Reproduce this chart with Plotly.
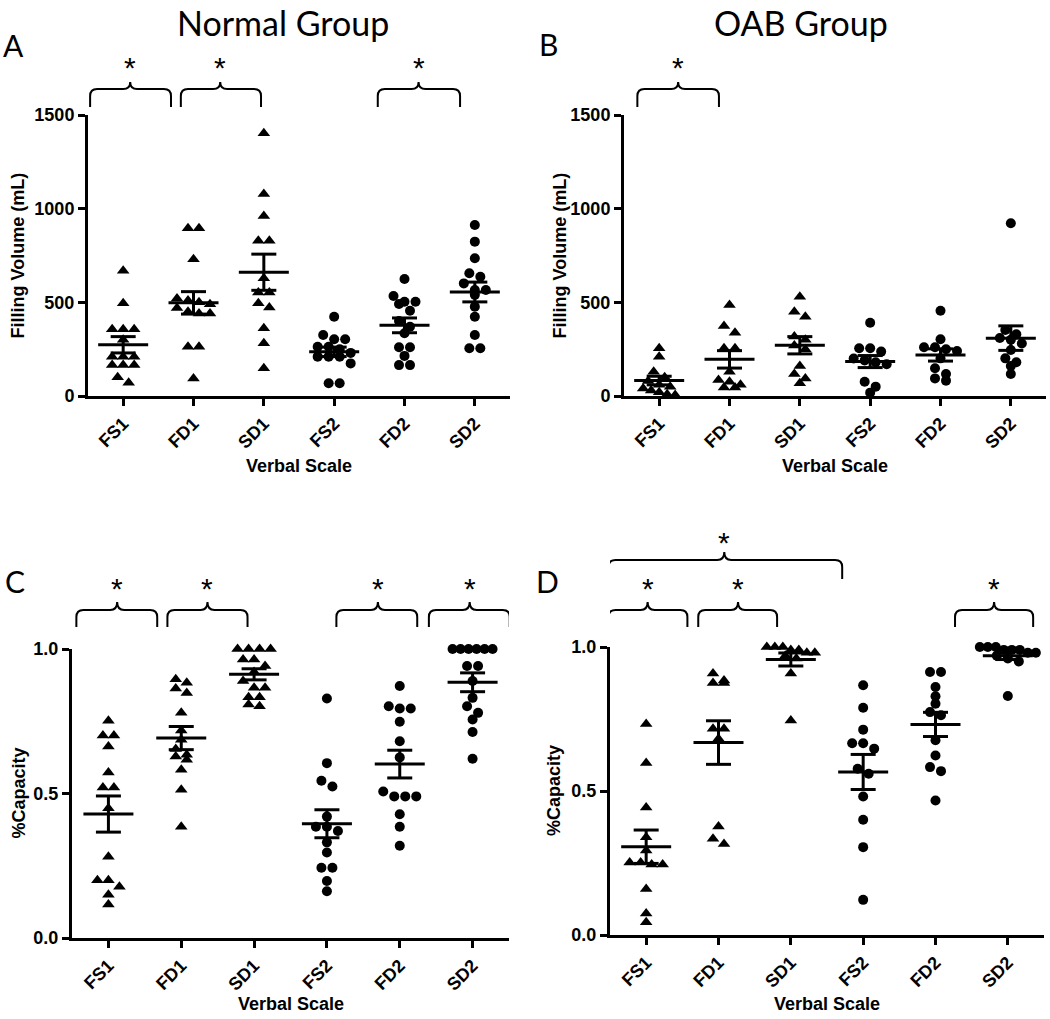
import numpy as np
import plotly.graph_objects as go

categories = ["FS1", "FD1", "SD1", "FS2", "FD2", "SD2"]

# filling volume (mL), normal group
normal_volume = [
    [669, 495, 356, 356, 356, 300, 210, 210, 210, 165, 165, 165, 100, 71],
    [895, 895, 730, 520, 510, 500, 490, 470, 450, 440, 440, 263, 263, 94],
    [1402, 1078, 961, 829, 829, 628, 552, 552, 495, 473, 361, 281, 148],
    [423, 326, 303, 303, 263, 263, 250, 230, 210, 210, 210, 174, 68, 68],
    [625, 534, 503, 503, 491, 455, 400, 370, 335, 260, 260, 214, 165, 165],
    [913, 824, 735, 655, 637, 601, 566, 566, 540, 477, 423, 326, 255, 255],
]
# filling volume (mL), OAB group
oab_volume = [
    [255, 210, 130, 100, 80, 60, 50, 40, 30, 20, 10, 5],
    [486, 374, 338, 255, 255, 130, 85, 76, 60, 46, 46],
    [530, 450, 423, 317, 300, 270, 250, 160, 117, 94, 68],
    [391, 255, 255, 237, 200, 190, 180, 170, 76, 50, 18],
    [455, 303, 260, 260, 250, 240, 201, 148, 117, 94, 82],
    [922, 352, 330, 310, 300, 280, 246, 201, 180, 160, 117],
]
# % capacity, normal group
normal_capacity = [
    [0.752, 0.701, 0.701, 0.663, 0.573, 0.521, 0.521, 0.449, 0.281, 0.200, 0.200, 0.177, 0.150, 0.116],
    [0.895, 0.883, 0.863, 0.848, 0.779, 0.718, 0.686, 0.654, 0.634, 0.628, 0.617, 0.582, 0.513, 0.385],
    [1.0, 1.0, 1.0, 1.0, 0.964, 0.964, 0.941, 0.92, 0.889, 0.866, 0.866, 0.833, 0.833, 0.808, 0.802],
    [0.829, 0.605, 0.544, 0.524, 0.420, 0.385, 0.385, 0.370, 0.331, 0.296, 0.243, 0.243, 0.197, 0.162],
    [0.872, 0.802, 0.794, 0.794, 0.748, 0.681, 0.625, 0.507, 0.490, 0.490, 0.490, 0.428, 0.385, 0.319],
    [1.0, 1.0, 1.0, 1.0, 1.0, 1.0, 0.941, 0.941, 0.889, 0.831, 0.802, 0.779, 0.756, 0.713, 0.620],
]
# % capacity, OAB group
oab_capacity = [
    [0.733, 0.597, 0.443, 0.339, 0.293, 0.252, 0.252, 0.245, 0.245, 0.160, 0.075, 0.044],
    [0.908, 0.884, 0.875, 0.875, 0.716, 0.716, 0.681, 0.377, 0.334, 0.316],
    [1.0, 1.0, 1.0, 0.99, 0.99, 0.98, 0.98, 0.97, 0.96, 0.908, 0.745],
    [0.867, 0.789, 0.713, 0.666, 0.666, 0.647, 0.577, 0.560, 0.481, 0.400, 0.305, 0.122],
    [0.913, 0.913, 0.861, 0.829, 0.803, 0.774, 0.763, 0.676, 0.623, 0.583, 0.569, 0.467],
    [1.0, 1.0, 1.0, 0.99, 0.99, 0.99, 0.98, 0.98, 0.97, 0.96, 0.95, 0.83],
]

W, H = 1050, 1019
TICKFONT = dict(family="Liberation Sans", size=18, color="black", weight="bold")


def fx(p):
    return p / W


def fy(p):
    return 1 - p / H


# panel frames in pixels: left, right, top, bottom
panels = [
    dict(name="", data=normal_volume, box=(88, 510, 115, 396), yr=[0, 1500], dtick=500, fmt="d",
         ytitle="Filling Volume (mL)", ytx=18, xtitle_y=466,
         brackets=[(-0.47, 0.68, 0.10, 0), (0.82, 1.96, 1.38, 0), (3.62, 4.79, 4.20, 0)]),
    dict(name="2", data=oab_volume, box=(624, 1046, 115, 396), yr=[0, 1500], dtick=500, fmt="d",
         ytitle="Filling Volume (mL)", ytx=560, xtitle_y=466,
         brackets=[(-0.31, 0.85, 0.27, 0)]),
    dict(name="3", data=normal_capacity, box=(72, 509, 649, 938), yr=[0, 1], dtick=0.5, fmt=".1f",
         ytitle="%Capacity", ytx=18, xtitle_y=1004,
         brackets=[(-0.44, 0.67, 0.12, 1), (0.81, 1.91, 1.36, 1), (3.13, 4.24, 3.70, 1), (4.40, 5.51, 4.96, 1)]),
    dict(name="4", data=oab_capacity, box=(610, 1044, 647, 935), yr=[0, 1], dtick=0.5, fmt=".1f",
         ytitle="%Capacity", ytx=554, xtitle_y=1004,
         brackets=[(-0.52, 0.57, 0.02, 1), (0.72, 1.81, 1.27, 1), (4.27, 5.35, 4.81, 1), (-0.52, 2.71, 1.08, 2)]),
]

# bracket rows: line, end, peak, star (pixel y)
levels = {0: (89, 107, 82, 68), 1: (610, 627, 602, 588), 2: (560, 579, 552, 542)}

fig = go.Figure()
shapes = []
annotations = []

for p in panels:
    l, r, t, b = p["box"]
    xname, yname = "x" + p["name"], "y" + p["name"]
    ppx = (r - l) / 6.0
    ppy = (b - t) / (p["yr"][1] - p["yr"][0])

    mx, my, sym = [], [], []
    lx, ly = [], []
    for i, vals in enumerate(p["data"]):
        v = np.sort(np.array(vals, dtype=float))[::-1]
        # prism-like swarm: group close values and spread them sideways
        groups = []
        for val in v:
            if groups and (groups[-1][0] - val) * ppy < 7:
                groups[-1].append(val)
            else:
                groups.append([val])
        for g in groups:
            n = len(g)
            gap = 11 if n < 5 else 8
            for k, val in enumerate(g):
                mx.append(i + (k - (n - 1) / 2) * gap / ppx)
                my.append(val)
                sym.append("triangle-up" if i < 3 else "circle")
        m = v.mean()
        se = v.std(ddof=1) / np.sqrt(len(v))
        hw, cw = 25 / ppx, 12.5 / ppx
        lx += [i - hw, i + hw, None, i - cw, i + cw, None, i - cw, i + cw, None, i, i, None]
        ly += [m, m, None, m + se, m + se, None, m - se, m - se, None, m - se, m + se, None]

    sizes = [11 if s == "triangle-up" else 10 for s in sym]
    fig.add_trace(go.Scatter(x=mx, y=my, mode="markers", xaxis=xname, yaxis=yname,
                             marker=dict(symbol=sym, size=sizes, color="black", opacity=1,
                                         line=dict(width=0)),
                             cliponaxis=False, showlegend=False))
    fig.add_trace(go.Scatter(x=lx, y=ly, mode="lines", xaxis=xname, yaxis=yname,
                             line=dict(color="black", width=3), cliponaxis=False, showlegend=False))

    axx = dict(domain=[fx(l), fx(r)], anchor=yname, range=[-0.5, 5.5], automargin=False,
               tickvals=list(range(6)), ticktext=categories, tickangle=-45,
               showline=True, linecolor="black", linewidth=3, ticks="outside",
               ticklen=7, tickwidth=3, tickcolor="black", showgrid=False, zeroline=False,
               tickfont=TICKFONT)
    axy = dict(domain=[fy(b), fy(t)], anchor=xname, range=p["yr"], dtick=p["dtick"], automargin=False,
               tickformat=p["fmt"], showline=True, linecolor="black", linewidth=3,
               ticks="outside", ticklen=7, tickwidth=3, tickcolor="black",
               showgrid=False, zeroline=False, tickfont=TICKFONT)
    fig.update_layout({"xaxis" + p["name"]: axx, "yaxis" + p["name"]: axy})

    # significance braces
    for xl, xr, xp, lev in p["brackets"]:
        yl, ye, yp, ys = levels[lev]
        rh = 7 / ppx
        rv = 7
        path = (f"M {xl},{fy(ye)} L {xl},{fy(yl + rv)} Q {xl},{fy(yl)} {xl + rh},{fy(yl)} "
                f"L {xp - rh},{fy(yl)} Q {xp},{fy(yl)} {xp},{fy(yp)} "
                f"Q {xp},{fy(yl)} {xp + rh},{fy(yl)} L {xr - rh},{fy(yl)} "
                f"Q {xr},{fy(yl)} {xr},{fy(yl + rv)} L {xr},{fy(ye)}")
        shapes.append(dict(type="path", path=path, xref=xname, yref="paper",
                           line=dict(color="black", width=2)))
        annotations.append(dict(text="*", x=xp, y=fy(ys), xref=xname, yref="paper",
                                showarrow=False, xanchor="center", yanchor="middle",
                                font=dict(family="Liberation Sans", size=30, color="black")))

    annotations.append(dict(text="Verbal Scale", x=fx((l + r) / 2), y=fy(p["xtitle_y"]),
                            xref="paper", yref="paper", showarrow=False,
                            xanchor="center", yanchor="middle", font=TICKFONT))
    annotations.append(dict(text=p["ytitle"], x=fx(p["ytx"]), y=fy((t + b) / 2),
                            xref="paper", yref="paper", showarrow=False, textangle=-90,
                            xanchor="center", yanchor="middle", font=TICKFONT))

big = dict(family="Lato", size=34, color="black")
for txt, x in [("Normal Group", 283), ("OAB Group", 801)]:
    annotations.append(dict(text=txt, x=fx(x), y=1, xref="paper", yref="paper",
                            showarrow=False, xanchor="center", yanchor="top", font=big))
for txt, x, y in [("A", 13, 45), ("B", 548, 44), ("C", 15, 581), ("D", 547, 581)]:
    annotations.append(dict(text=txt, x=fx(x), y=fy(y), xref="paper", yref="paper",
                            showarrow=False, xanchor="center", yanchor="middle",
                            font=dict(family="Lato", size=30, color="black")))

fig.update_layout(width=W, height=H, margin=dict(l=0, r=0, t=0, b=0, pad=0),
                  paper_bgcolor="white", plot_bgcolor="white",
                  shapes=shapes, annotations=annotations, showlegend=False)

# drop the default 8px page margin so the figure sits at the window corner
fig.write_html("out.html", config={"displayModeBar": False},
               post_script="document.body.style.margin='0';")
